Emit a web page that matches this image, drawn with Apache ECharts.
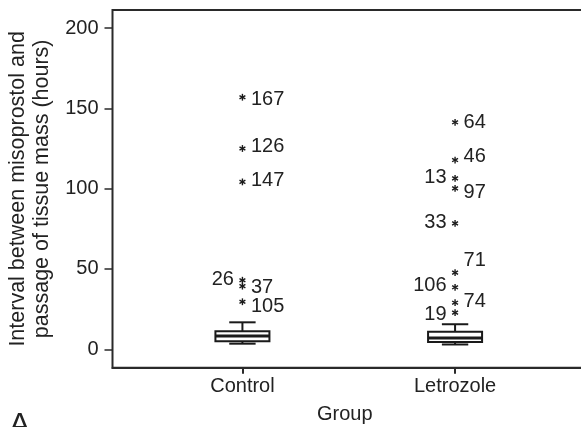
<!DOCTYPE html>
<html>
<head>
<meta charset="utf-8">
<script src="https://cdn.jsdelivr.net/npm/echarts@6/dist/echarts.min.js"></script>
<style>html,body{margin:0;padding:0;background:#fff}#c{width:581px;height:427px}</style>
</head>
<body>
<div id="c"></div>
<script>
// ---- data ----
const categories = ['Control', 'Letrozole'];
const yTicks = [0, 50, 100, 150, 200];
// box stats: [min, q1, median, q3, max]
const controlBox = [3.5, 5.0, 8.3, 11.2, 16.8];
const letrozoleBox = [3.0, 4.6, 7.0, 11.0, 15.6];
// outliers
const controlOutlierValues = [156.9, 125.0, 104.2, 43.0, 39.3, 29.6];
const controlOutlierIds = [167, 126, 147, 26, 37, 105];
const letrozoleOutlierValues = [141.3, 117.8, 106.4, 100.2, 78.4, 47.7, 38.6, 29.0, 22.8];
const letrozoleOutlierIds = [64, 46, 13, 97, 33, 71, 106, 74, 19];

// ---- label layout (style, not data) ----
const leftLabelIds = [26, 13, 33, 106, 19];
const labelShiftY = {167: 2, 126: -2, 147: -1.5, 26: -1, 37: 1.5, 105: 5,
  64: 0.5, 46: -3.5, 13: -1, 97: 4, 33: -0.5, 71: -12, 106: -1.5, 74: -1.5, 19: 1.5};

const TEXT = '#222';
const FONT = 'Liberation Sans, Arial, Helvetica, sans-serif';

const boxData = [[1].concat(controlBox), [2].concat(letrozoleBox)];
const outlierData = [];
controlOutlierValues.forEach((v, i) => outlierData.push([1, v, controlOutlierIds[i]]));
letrozoleOutlierValues.forEach((v, i) => outlierData.push([2, v, letrozoleOutlierIds[i]]));

const chart = echarts.init(document.getElementById('c'), null, {renderer: 'canvas'});
chart.setOption({
  animation: false,
  backgroundColor: '#fff',
  grid: {left: 112.5, top: 10, width: 472.5, height: 357.7, show: true, outerBoundsMode: 'none',
    borderColor: '#2a2a2a', borderWidth: 2, backgroundColor: '#fff'},
  xAxis: {
    type: 'value', min: 0.389, max: 2.611, position: 'bottom',
    axisLine: {show: true, onZero: false, lineStyle: {color: '#2a2a2a', width: 2}},
    splitLine: {show: false},
    axisTick: {show: true, length: 6, customValues: [1, 2], lineStyle: {color: '#2a2a2a', width: 2}},
    axisLabel: {customValues: [1, 2], margin: 9, fontSize: 20, color: TEXT, fontFamily: FONT,
      formatter: v => categories[Math.round(v) - 1] || ''},
    name: 'Group', nameLocation: 'middle', nameGap: 37,
    nameTextStyle: {fontSize: 20, color: TEXT, fontFamily: FONT, padding: [0, 8, 0, 0]}
  },
  yAxis: {
    type: 'value', min: -11.45, max: 211.2,
    axisLine: {show: false, onZero: false},
    splitLine: {show: false},
    axisTick: {show: true, length: 8, customValues: yTicks, lineStyle: {color: '#2a2a2a', width: 1.5}},
    axisLabel: {customValues: yTicks, margin: 14, fontSize: 20, color: TEXT, fontFamily: FONT},
    name: 'Interval between misoprostol and\npassage of tissue mass (hours)',
    nameLocation: 'middle', nameGap: 56,
    nameTextStyle: {fontSize: 21.5, lineHeight: 24, color: TEXT, fontFamily: FONT}
  },
  graphic: [{type: 'text', left: 9, top: 410,
    style: {text: 'A', fontSize: 32, fill: TEXT, fontFamily: FONT}}],
  series: [
    {
      type: 'custom',
      data: boxData,
      renderItem: function (params, api) {
        const x = api.value(0);
        const mn = api.coord([x, api.value(1)]);
        const q1 = api.coord([x, api.value(2)]);
        const md = api.coord([x, api.value(3)]);
        const q3 = api.coord([x, api.value(4)]);
        const mx = api.coord([x, api.value(5)]);
        const halfBox = api.size([0.127, 0])[0];
        const halfCap = api.size([0.062, 0])[0];
        const cx = mn[0];
        const ls = {stroke: '#1a1a1a', lineWidth: 2, fill: null};
        return {type: 'group', children: [
          {type: 'line', shape: {x1: cx, y1: q3[1], x2: cx, y2: mx[1]}, style: ls},
          {type: 'line', shape: {x1: cx - halfCap, y1: mx[1], x2: cx + halfCap, y2: mx[1]}, style: ls},
          {type: 'line', shape: {x1: cx, y1: q1[1], x2: cx, y2: mn[1]}, style: ls},
          {type: 'line', shape: {x1: cx - halfCap, y1: mn[1], x2: cx + halfCap, y2: mn[1]}, style: ls},
          {type: 'rect', shape: {x: cx - halfBox, y: q3[1], width: 2 * halfBox, height: q1[1] - q3[1]},
            style: {stroke: '#1a1a1a', lineWidth: 2, fill: '#fff'}},
          {type: 'line', shape: {x1: cx - halfBox, y1: md[1], x2: cx + halfBox, y2: md[1]},
            style: {stroke: '#1a1a1a', lineWidth: 3}}
        ]};
      }
    },
    {
      type: 'custom',
      data: outlierData,
      renderItem: function (params, api) {
        const p = api.coord([api.value(0), api.value(1)]);
        const id = api.value(2);
        const left = leftLabelIds.indexOf(id) >= 0;
        const r = 3.4;
        const ls = {stroke: '#1a1a1a', lineWidth: 1.4};
        const children = [];
        [90, 30, 150].forEach(a => {
          const rad = a * Math.PI / 180;
          const dx = r * Math.cos(rad), dy = r * Math.sin(rad);
          children.push({type: 'line', shape: {x1: p[0] - dx, y1: p[1] - dy, x2: p[0] + dx, y2: p[1] + dy}, style: ls});
        });
        children.push({type: 'text', x: p[0] + (left ? -8.5 : 8.5), y: p[1] + (labelShiftY[id] || 0),
          style: {text: String(id), fontSize: 20, fontFamily: FONT, fill: TEXT,
            align: left ? 'right' : 'left', verticalAlign: 'middle'}});
        return {type: 'group', children: children};
      }
    }
  ]
});
</script>
</body>
</html>
